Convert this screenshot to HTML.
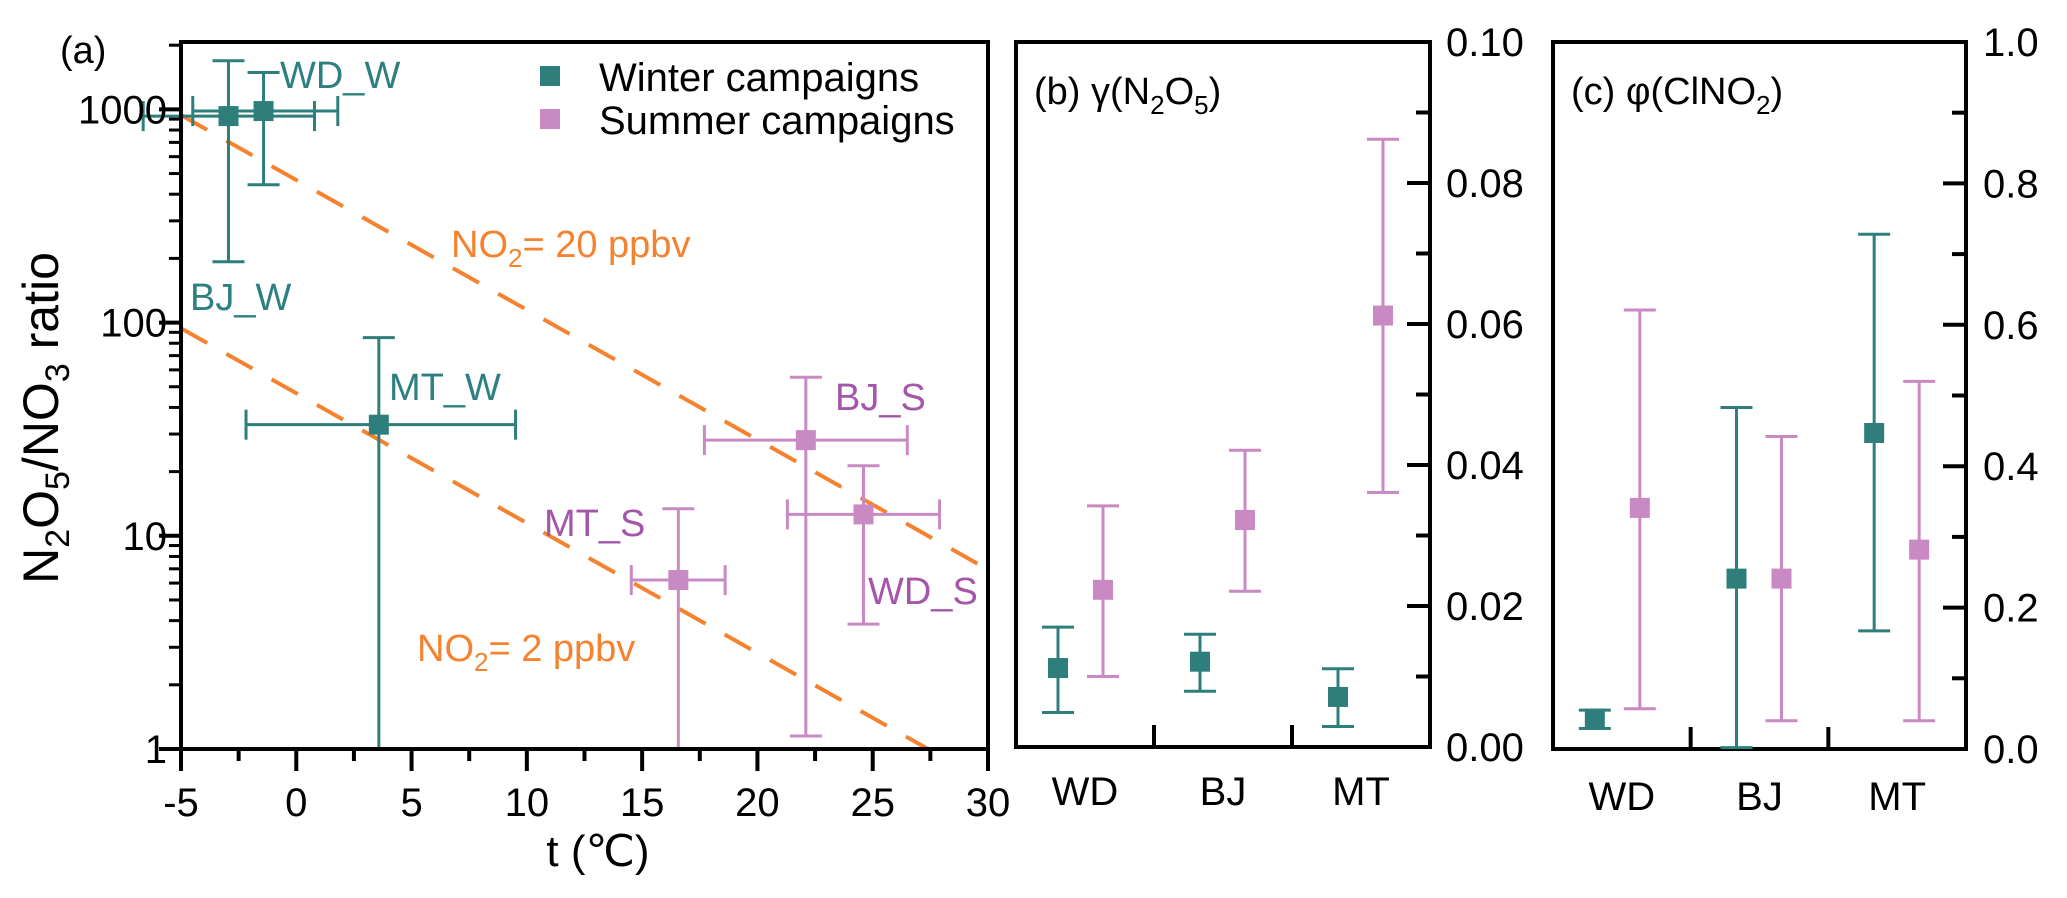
<!DOCTYPE html>
<html><head><meta charset="utf-8"><style>
body{margin:0;background:#fff}
svg text{font-family:"Liberation Sans",Arial,sans-serif;}
</style></head><body>
<svg id="fig" width="2067" height="893" viewBox="0 0 2067 893" xmlns="http://www.w3.org/2000/svg"></svg>
<script>
// Panel (a) data
const siteA = ['BJ_W','WD_W','MT_W','MT_S','BJ_S','WD_S'];
const seasonA = ['W','W','W','S','S','S'];
const tempA = [-2.94,-1.42,3.58,16.57,22.1,24.6];
const tempLo = [-6.64,-4.49,-2.18,14.53,17.7,21.3];
const tempHi = [0.79,1.80,9.51,18.6,26.5,27.9];
const ratioA = [930,982,33.2,6.2,28.1,12.6];
const ratioLo = [193,443,0.5,0.5,1.15,3.85];
const ratioHi = [1690,1490,85,13.4,55.4,21.3];
const lineNames = ['NO2= 20 ppbv','NO2= 2 ppbv'];
const lineAtMinus5 = [940,94];
const lineSlope = [-0.0609,-0.0609];
const xTicksA = [-5,0,5,10,15,20,25,30];
const yTicksA = [1,10,100,1000];
// Panel (b)
const cats = ['WD','BJ','MT'];
const gamW = [0.0112,0.0121,0.0071];
const gamWLo = [0.0049,0.0079,0.0029];
const gamWHi = [0.0170,0.0160,0.0111];
const gamS = [0.0223,0.0322,0.0612];
const gamSLo = [0.0100,0.0221,0.0361];
const gamSHi = [0.0342,0.0421,0.0862];
const yTicksB = ['0.00','0.02','0.04','0.06','0.08','0.10'];
// Panel (c)
const phiW = [0.043,0.241,0.447];
const phiWLo = [0.029,0.002,0.167];
const phiWHi = [0.055,0.483,0.728];
const phiS = [0.341,0.241,0.282];
const phiSLo = [0.057,0.040,0.040];
const phiSHi = [0.621,0.442,0.520];
const yTicksC = ['0.0','0.2','0.4','0.6','0.8','1.0'];

const TEAL='#2e7f7b', PINK='#c98ac4', PTXT='#a456a8', TTXT='#2e8080', OR='#f5822f';
const svg=document.getElementById('fig');
const NS='http://www.w3.org/2000/svg';
function el(tag,attrs,parent){const e=document.createElementNS(NS,tag);for(const k in attrs)e.setAttribute(k,attrs[k]);(parent||svg).appendChild(e);return e;}
function line(x1,y1,x2,y2,c,w,g){return el('line',{x1,y1,x2,y2,stroke:c,'stroke-width':w},g);}
function txt(x,y,s,size,fill,anchor,g){const t=el('text',{x,y,'font-size':size,fill:fill||'#000','text-anchor':anchor||'start'},g);t.textContent=s;return t;}

// ---------- Panel a ----------
const AL=181,AR=988,AT=42,AB=749;
const ax=t=>AL+(t+5)/35*(AR-AL);
const ay=v=>AB-(Math.log10(v)/Math.log10(2070))*(AB-AT);
const ga=el('g',{});


const defs=el('defs',{});
const cp=el('clipPath',{id:'clipA'},defs);el('rect',{x:AL,y:AT,width:AR-AL,height:AB-AT},cp);
const cpe=el('clipPath',{id:'clipAe'},defs);el('rect',{x:0,y:AT,width:1000,height:AB-AT},cpe);
const gl=el('g',{'clip-path':'url(#clipA)'},ga);
lineNames.forEach((n,i)=>{
  const v0=lineAtMinus5[i], v1=v0*Math.pow(10,lineSlope[i]*35);
  const l=el('line',{x1:ax(-5),y1:ay(v0),x2:ax(30),y2:ay(v1),stroke:OR,'stroke-width':4,'stroke-dasharray':'30 22'},gl);
  
  
});
const ge=el('g',{'clip-path':'url(#clipAe)'},ga);
siteA.forEach((s,i)=>{
  const c=seasonA[i]==='W'?TEAL:PINK;
  const g=el('g',{},ge);
  
  
  const x=ax(tempA[i]),y=ay(ratioA[i]);
  line(ax(tempLo[i]),y,ax(tempHi[i]),y,c,3,g);
  line(ax(tempLo[i]),y-15,ax(tempLo[i]),y+15,c,3,g);
  line(ax(tempHi[i]),y-15,ax(tempHi[i]),y+15,c,3,g);
  line(x,ay(ratioLo[i]),x,ay(ratioHi[i]),c,3,g);
  line(x-16,ay(ratioHi[i]),x+16,ay(ratioHi[i]),c,3,g);
  if(ratioLo[i]>=1) line(x-16,ay(ratioLo[i]),x+16,ay(ratioLo[i]),c,3,g);
  el('rect',{x:x-10,y:y-10,width:20,height:20,fill:c},g);
});
const fa=el('rect',{x:AL,y:AT,width:AR-AL,height:AB-AT,fill:'none',stroke:'#000','stroke-width':4},ga);

xTicksA.forEach(t=>{line(ax(t),AB,ax(t),AB+22,'#000',4,ga);const tt=txt(ax(t),816,String(t),40,'#000','middle',ga);
  });
for(let t=-2.5;t<30;t+=5) line(ax(t),AB,ax(t),AB+12,'#000',4,ga);
yTicksA.forEach(v=>{line(AL-22,ay(v),AL,ay(v),'#000',4,ga);const tt=txt(AL-14,ay(v)+14,String(v),40,'#000','end',ga);
  });
for(let d=0;d<4;d++)for(let m=2;m<=9;m++){const v=m*Math.pow(10,d);if(v<2070)line(AL-12,ay(v),AL,ay(v),'#000',3,ga);}
const lab=[['WD_W',280,88,TTXT],['BJ_W',190,310,TTXT],['MT_W',389,400,TTXT],['BJ_S',835,410,PTXT],['MT_S',544,536,PTXT],['WD_S',868,604,PTXT]];
lab.forEach(l=>{const t=txt(l[1],l[2],l[0],38,l[3],'start',ga);});
function no2(x,y,rest){const t=el('text',{x,y,'font-size':38,fill:OR},ga);t.innerHTML='NO<tspan font-size="26" dy="10">2</tspan><tspan dy="-10">'+rest+'</tspan>';return t;}
let t1=no2(451,257,'= 20 ppbv');
let t2=no2(417,661,'= 2 ppbv');
let ta=txt(60,63,'(a)',38,'#000','start',ga);
const lg=el('g',{},ga);
el('rect',{x:540,y:66,width:20,height:20,fill:TEAL},lg);txt(599,91,'Winter campaigns',40,'#000','start',lg);
el('rect',{x:540,y:109,width:20,height:20,fill:PINK},lg);txt(599,134,'Summer campaigns',40,'#000','start',lg);
const yt=el('text',{x:0,y:0,'font-size':50,'text-anchor':'middle',transform:'translate(58,418) rotate(-90)'},ga);
yt.innerHTML='N<tspan font-size="34" dy="11">2</tspan><tspan dy="-11">O</tspan><tspan font-size="34" dy="11">5</tspan><tspan dy="-11">/NO</tspan><tspan font-size="34" dy="11">3</tspan><tspan dy="-11"> ratio</tspan>';

const xt=txt(598,866,'t (℃)',44,'#000','middle',ga);

// ---------- Panels b & c ----------
function panel(name,L,R,T,B,max,ticks,Wv,WLo,WHi,Sv,SLo,SHi,titleHTML,labY,tickLabX){
  const g=el('g',{});
  
  
  const py=v=>B-v/max*(B-T);
  const w=(R-L)/3;
  const cx=i=>L+w*(i+0.5)-(i===0?4:0);
  el('rect',{x:L,y:T,width:R-L,height:B-T,fill:'none',stroke:'#000','stroke-width':4},g);
  ticks.forEach((s,i)=>{const v=parseFloat(s);line(R-23,py(v),R,py(v),'#000',4,g);
    const tt=txt(tickLabX,py(v)+14,s,40,'#000','start',g);
    if(i<ticks.length-1)line(R-14,py(v+max/10),R,py(v+max/10),'#000',4,g);});
  [1,2].forEach(i=>line(L+w*i,B,L+w*i,B-22,'#000',4,g));
  cats.forEach((c,i)=>{const tt=txt(L+w*(i+0.5),labY,c,40,'#000','middle',g);});
  function pt(x,v,lo,hi,c,nm){const pg=el('g',{},g);
    
    
    line(x,py(lo),x,py(hi),c,3,pg);line(x-16,py(lo),x+16,py(lo),c,3,pg);line(x-16,py(hi),x+16,py(hi),c,3,pg);
    el('rect',{x:x-10,y:py(v)-10,width:20,height:20,fill:c},pg);}
  cats.forEach((c,i)=>{pt(cx(i)-23,Wv[i],WLo[i],WHi[i],TEAL,'winter-'+c.toLowerCase());pt(cx(i)+22,Sv[i],SLo[i],SHi[i],PINK,'summer-'+c.toLowerCase());});
  const tt=el('text',{x:L+18,y:104,'font-size':38},g);tt.innerHTML=titleHTML;
  
}
panel('panel-b',1016,1430,42,747,0.10,yTicksB,gamW,gamWLo,gamWHi,gamS,gamSLo,gamSHi,
 '(b) γ(N<tspan font-size="26" dy="10">2</tspan><tspan dy="-10">O</tspan><tspan font-size="26" dy="10">5</tspan><tspan dy="-10">)</tspan>',805,1446);
panel('panel-c',1553,1966,42,749,1.0,yTicksC,phiW,phiWLo,phiWHi,phiS,phiSLo,phiSHi,
 '(c) φ(ClNO<tspan font-size="26" dy="10">2</tspan><tspan dy="-10">)</tspan>',810,1983);
</script>
</body></html>
